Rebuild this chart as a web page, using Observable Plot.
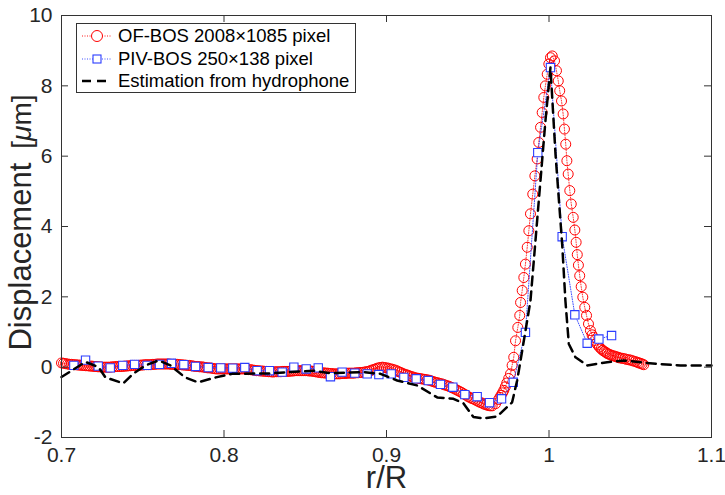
<!DOCTYPE html>
<html>
<head>
<meta charset="utf-8">
<script src="https://cdn.jsdelivr.net/npm/d3@7"></script>
<script src="https://cdn.jsdelivr.net/npm/@observablehq/plot@0.6"></script>
<style>
  html, body { margin: 0; padding: 0; background: #fff; }
  #wrap { position: relative; width: 725px; height: 495px; font-family: "Liberation Sans", Arial, sans-serif; }
  #legend { position: absolute; left: 76px; top: 23px; }
</style>
</head>
<body>
<div id="wrap"><div id="chart"></div><div id="legend"></div></div>
<script>
// ---- data ----
const seriesNames = ["OF-BOS 2008\u00d71085 pixel", "PIV-BOS 250\u00d7138 pixel", "Estimation from hydrophone"];
const xTicks = [0.7, 0.8, 0.9, 1, 1.1];
const xTickLabels = ["0.7", "0.8", "0.9", "1", "1.1"];
const yTicks = [-2, 0, 2, 4, 6, 8, 10];
const xLabel = "r/R";
const yLabel = "Displacement  [\u03bcm]";

// OF-BOS: [r/R, displacement]
const ofBos = [
[0.70000,0.12],[0.70125,0.11],[0.70250,0.10],[0.70375,0.09],[0.70500,0.08],[0.70625,0.08],[0.70750,0.07],[0.70875,0.07],[0.71000,0.06],[0.71125,0.06],
[0.71250,0.05],[0.71375,0.05],[0.71500,0.04],[0.71625,0.04],[0.71750,0.03],[0.71875,0.03],[0.72000,0.02],[0.72125,0.02],[0.72250,0.01],[0.72375,0.01],
[0.72500,0.00],[0.72625,0.00],[0.72750,0.00],[0.72875,0.00],[0.73000,0.00],[0.73125,0.01],[0.73250,0.01],[0.73375,0.02],[0.73500,0.02],[0.73625,0.02],
[0.73750,0.02],[0.73875,0.03],[0.74000,0.03],[0.74125,0.04],[0.74250,0.04],[0.74375,0.05],[0.74500,0.05],[0.74625,0.05],[0.74750,0.05],[0.74875,0.06],
[0.75000,0.06],[0.75125,0.07],[0.75250,0.07],[0.75375,0.07],[0.75500,0.07],[0.75625,0.08],[0.75750,0.08],[0.75875,0.09],[0.76000,0.09],[0.76125,0.09],
[0.76250,0.09],[0.76375,0.09],[0.76500,0.09],[0.76625,0.09],[0.76750,0.08],[0.76875,0.08],[0.77000,0.08],[0.77125,0.08],[0.77250,0.07],[0.77375,0.07],
[0.77500,0.06],[0.77625,0.06],[0.77750,0.05],[0.77875,0.05],[0.78000,0.04],[0.78125,0.03],[0.78250,0.02],[0.78375,0.02],[0.78500,0.01],[0.78625,0.01],
[0.78750,0.00],[0.78875,-0.01],[0.79000,-0.02],[0.79125,-0.02],[0.79250,-0.03],[0.79375,-0.04],[0.79500,-0.05],[0.79625,-0.05],[0.79750,-0.05],[0.79875,-0.05],
[0.80000,-0.05],[0.80125,-0.05],[0.80250,-0.05],[0.80375,-0.05],[0.80500,-0.05],[0.80625,-0.05],[0.80750,-0.05],[0.80875,-0.05],[0.81000,-0.05],[0.81125,-0.05],
[0.81250,-0.05],[0.81375,-0.06],[0.81500,-0.07],[0.81625,-0.07],[0.81750,-0.08],[0.81875,-0.09],[0.82000,-0.10],[0.82125,-0.10],[0.82250,-0.11],[0.82375,-0.11],
[0.82500,-0.12],[0.82625,-0.12],[0.82750,-0.13],[0.82875,-0.13],[0.83000,-0.14],[0.83125,-0.13],[0.83250,-0.13],[0.83375,-0.13],[0.83500,-0.13],[0.83625,-0.12],
[0.83750,-0.12],[0.83875,-0.12],[0.84000,-0.12],[0.84125,-0.11],[0.84250,-0.11],[0.84375,-0.10],[0.84500,-0.10],[0.84625,-0.10],[0.84750,-0.10],[0.84875,-0.10],
[0.85000,-0.10],[0.85125,-0.10],[0.85250,-0.11],[0.85375,-0.11],[0.85500,-0.12],[0.85625,-0.13],[0.85750,-0.14],[0.85875,-0.15],[0.86000,-0.16],[0.86125,-0.16],
[0.86250,-0.17],[0.86375,-0.17],[0.86500,-0.18],[0.86625,-0.18],[0.86750,-0.19],[0.86875,-0.19],[0.87000,-0.19],[0.87125,-0.19],[0.87250,-0.18],[0.87375,-0.18],
[0.87500,-0.18],[0.87625,-0.17],[0.87750,-0.17],[0.87875,-0.17],[0.88000,-0.17],[0.88125,-0.16],[0.88250,-0.16],[0.88375,-0.15],[0.88500,-0.15],[0.88625,-0.14],
[0.88750,-0.13],[0.88875,-0.12],[0.89000,-0.10],[0.89125,-0.08],[0.89250,-0.06],[0.89375,-0.04],[0.89500,-0.02],[0.89625,-0.01],[0.89750,0.00],[0.89875,-0.01],
[0.90000,-0.02],[0.90125,-0.03],[0.90250,-0.05],[0.90375,-0.06],[0.90500,-0.08],[0.90625,-0.10],[0.90750,-0.13],[0.90875,-0.15],[0.91000,-0.18],[0.91125,-0.20],
[0.91250,-0.22],[0.91375,-0.24],[0.91500,-0.26],[0.91625,-0.28],[0.91750,-0.30],[0.91875,-0.31],[0.92000,-0.32],[0.92125,-0.33],[0.92250,-0.34],[0.92375,-0.35],
[0.92500,-0.36],[0.92625,-0.37],[0.92750,-0.39],[0.92875,-0.41],[0.93000,-0.43],[0.93125,-0.44],[0.93250,-0.46],[0.93375,-0.47],[0.93500,-0.49],[0.93625,-0.51],
[0.93750,-0.53],[0.93875,-0.55],[0.94000,-0.58],[0.94125,-0.60],[0.94250,-0.63],[0.94375,-0.66],[0.94500,-0.69],[0.94625,-0.72],[0.94750,-0.76],[0.94875,-0.79],
[0.95000,-0.83],[0.95125,-0.86],[0.95250,-0.89],[0.95375,-0.91],[0.95500,-0.94],[0.95625,-0.97],[0.95750,-1.00],[0.95875,-1.02],[0.96000,-1.05],[0.96125,-1.07],
[0.96250,-1.09],[0.96375,-1.10],[0.96500,-1.10],[0.96710,-1.04],[0.96900,-0.92],[0.96980,-0.86],[0.97050,-0.80],[0.97140,-0.73],[0.97220,-0.66],[0.97310,-0.56],
[0.97400,-0.45],[0.97520,-0.32],[0.97630,-0.19],[0.97730,0.05],[0.97830,0.28],[0.97940,0.75],[0.98080,1.13],[0.98200,1.47],[0.98250,1.84],[0.98350,2.18],
[0.98450,2.55],[0.98550,2.93],[0.98660,3.41],[0.98760,3.88],[0.98860,4.36],[0.99000,4.92],[0.99130,5.44],[0.99270,5.92],[0.99370,6.39],[0.99480,6.82],
[0.99580,7.24],[0.99680,7.67],[0.99780,8.00],[0.99890,8.33],[0.99990,8.62],[1.00090,8.80],[1.00200,8.85],[1.00340,8.71],[1.00460,8.43],[1.00570,8.14],
[1.00660,7.86],[1.00770,7.57],[1.00870,7.20],[1.00950,6.77],[1.01030,6.34],[1.01100,5.87],[1.01180,5.49],[1.01280,5.02],[1.01370,4.64],[1.01490,4.26],
[1.01590,3.90],[1.01670,3.55],[1.01740,3.20],[1.01810,2.90],[1.01890,2.60],[1.01980,2.29],[1.02080,1.99],[1.02200,1.70],[1.02310,1.47],[1.02430,1.23],
[1.02550,1.04],[1.02650,0.92],[1.02720,0.85],[1.02820,0.76],[1.02920,0.68],[1.03000,0.63],[1.03100,0.57],[1.03210,0.52],[1.03300,0.48],[1.03400,0.45],
[1.03500,0.42],[1.03580,0.39],[1.03680,0.37],[1.03780,0.35],[1.03880,0.33],[1.03990,0.32],[1.04100,0.30],[1.04200,0.29],[1.04300,0.27],[1.04400,0.26],
[1.04520,0.25],[1.04650,0.24],[1.04780,0.22],[1.04910,0.21],[1.05030,0.20],[1.05150,0.18],[1.05300,0.16],[1.05430,0.14],[1.05530,0.12],[1.05630,0.11],
[1.05730,0.09],[1.05830,0.07]];

// PIV-BOS: [r/R, displacement]
const pivBos = [[0.7076,0.05],[0.7148,0.20],[0.7226,0.03],[0.7300,-0.02],[0.7377,0.05],[0.7450,0.08],[0.7527,0.05],[0.7603,0.08],[0.7677,0.11],[0.7753,0.07],[0.7825,0.02],[0.7903,-0.01],[0.7980,-0.02],[0.8054,-0.03],[0.8128,-0.01],[0.8204,-0.10],[0.8280,-0.10],[0.8358,-0.14],[0.8430,0.00],[0.8506,-0.05],[0.8580,-0.02],[0.8655,-0.27],[0.8727,-0.14],[0.8805,-0.17],[0.8881,-0.19],[0.8953,-0.21],[0.9029,-0.19],[0.9107,-0.29],[0.9183,-0.33],[0.9257,-0.38],[0.9332,-0.49],[0.9408,-0.57],[0.9482,-0.78],[0.9558,-0.84],[0.9634,-1.01],[0.9708,-0.90],[0.9780,-0.43],[0.9855,0.99],[0.9931,6.10],[1.0009,8.52],[1.0081,3.71],[1.0159,1.49],[1.0235,0.68],[1.0307,0.80],[1.0385,0.90]];

// Hydrophone estimation: [r/R, displacement]
const hydrophone = [[0.7000,-0.28],[0.7148,0.15],[0.7228,0.00],[0.7270,-0.29],[0.7380,-0.46],[0.7440,-0.19],[0.7517,0.05],[0.7597,0.19],[0.7670,0.05],[0.7760,-0.29],[0.7840,-0.43],[0.7950,-0.29],[0.8050,-0.19],[0.8190,-0.18],[0.8270,-0.18],[0.8409,-0.14],[0.8550,-0.10],[0.8655,-0.17],[0.8858,-0.14],[0.8963,-0.19],[0.9066,-0.38],[0.9189,-0.52],[0.9312,-0.86],[0.9412,-0.90],[0.9474,-1.03],[0.9535,-1.42],[0.9597,-1.46],[0.9681,-1.40],[0.9773,-1.00],[0.9804,-0.38],[0.9825,0.19],[0.9886,1.89],[0.9927,4.17],[0.9978,7.00],[1.0009,8.52],[1.0040,6.06],[1.0081,3.50],[1.0101,1.89],[1.0122,0.66],[1.0163,0.28],[1.0235,0.05],[1.0358,0.14],[1.0460,0.19],[1.0563,0.14],[1.0666,0.09],[1.0809,0.05],[1.1000,0.05]];

// ---- styles ----
const RED = "#ff0000", BLUE = "#2b3dff", AXIS = "#333333";
const FONT = "'Liberation Sans', Arial, sans-serif";
const px = d => d[0], py = d => d[1];
const W = 725, H = 495, ML = 61, MR = 14, MT = 15, MB = 58, TICK = 7;
const frameW = W - ML - MR, frameH = H - MT - MB;

const chart = Plot.plot({
  width: W, height: H,
  marginLeft: ML, marginRight: MR, marginTop: MT, marginBottom: MB,
  style: { fontFamily: FONT, background: "#fff", color: "#262626", overflow: "visible" },
  x: { type: "linear", domain: [0.7, 1.1] },
  y: { type: "linear", domain: [-2, 10] },
  marks: [
    // OF-BOS
    Plot.line(ofBos, { x: px, y: py, stroke: RED, strokeWidth: 0.8, strokeDasharray: "1,1.5" }),
    Plot.dot(ofBos, { x: px, y: py, r: 5, stroke: RED, strokeWidth: 1, fill: "none" }),
    // PIV-BOS
    Plot.line(pivBos, { x: px, y: py, stroke: BLUE, strokeWidth: 0.9, strokeDasharray: "1,1.5" }),
    Plot.dot(pivBos, { x: px, y: py, symbol: "square", r: 4.7, stroke: BLUE, strokeWidth: 1.1, fill: "#fff" }),
    // Hydrophone
    Plot.line(hydrophone, { x: px, y: py, stroke: "#000", strokeWidth: 2.5, strokeDasharray: "9,6" }),
    // frame and inward ticks
    Plot.frame({ stroke: AXIS, strokeWidth: 1 }),
    Plot.tickX(xTicks, { x: d => d, insetTop: frameH - TICK, stroke: AXIS }),
    Plot.tickX(xTicks, { x: d => d, insetBottom: frameH - TICK, stroke: AXIS }),
    Plot.tickY(yTicks, { y: d => d, insetRight: frameW - TICK, stroke: AXIS }),
    Plot.tickY(yTicks, { y: d => d, insetLeft: frameW - TICK, stroke: AXIS }),
    // tick labels
    Plot.axisX({ anchor: "bottom", ticks: xTicks, tickSize: 0, tickPadding: 10, fontSize: 21,
      tickFormat: d => xTickLabels[xTicks.indexOf(d)], label: null }),
    Plot.axisY({ anchor: "left", ticks: yTicks, tickSize: 0, tickPadding: 9, fontSize: 21,
      tickFormat: d => String(d), label: null }),
    // axis titles
    Plot.text([xLabel], { text: d => d, frameAnchor: "bottom", lineAnchor: "middle", textAnchor: "middle", dy: 41, fontSize: 31, fill: "#262626" }),
    Plot.text([yLabel], { text: d => d, frameAnchor: "left", lineAnchor: "middle", textAnchor: "middle", dx: -40, dy: -4, rotate: -90, fontSize: 31, fill: "#262626" })
  ]
});
document.getElementById("chart").appendChild(chart);

// TeX-style unit in y label: italic mu, slightly smaller bracket part
d3.select(chart).selectAll("text").each(function() {
  if (this.textContent === yLabel) {
    const sel = d3.select(this);
    sel.text(null);
    sel.append("tspan").text("Displacement");
    sel.append("tspan").attr("dx", 14).attr("font-size", 28).text("[");
    sel.append("tspan").attr("font-size", 28).attr("font-style", "italic").text("\u03bc");
    sel.append("tspan").attr("font-size", 28).text("m]");
  }
});

// ---- legend ----
const lw = 280, lh = 70;
const leg = d3.select("#legend").append("svg").attr("width", lw).attr("height", lh)
  .style("font-family", FONT).style("overflow", "visible");
leg.append("rect").attr("x", 0.5).attr("y", 0.5).attr("width", lw - 1).attr("height", lh - 1)
  .attr("fill", "#fff").attr("stroke", AXIS).attr("stroke-width", 1);
const rowY = [13, 36, 58];
seriesNames.forEach((name, i) => {
  const g = leg.append("g").attr("transform", `translate(0,${rowY[i]})`);
  if (i === 0) {
    g.append("line").attr("x1", 6).attr("x2", 36).attr("stroke", RED).attr("stroke-width", 0.9).attr("stroke-dasharray", "1,1.5");
    g.append("circle").attr("cx", 21).attr("r", 5.5).attr("fill", "#fff").attr("stroke", RED).attr("stroke-width", 1);
  } else if (i === 1) {
    g.append("line").attr("x1", 6).attr("x2", 36).attr("stroke", BLUE).attr("stroke-width", 0.9).attr("stroke-dasharray", "1,1.5");
    g.append("rect").attr("x", 17).attr("y", -4).attr("width", 8).attr("height", 8).attr("fill", "#fff").attr("stroke", BLUE).attr("stroke-width", 1.1);
  } else {
    g.append("line").attr("x1", 6).attr("x2", 36).attr("stroke", "#000").attr("stroke-width", 2.5).attr("stroke-dasharray", "9,6");
  }
  g.append("text").attr("x", 42).attr("dy", "0.35em").attr("font-size", 18.5).attr("fill", "#000").text(name);
});
</script>
</body>
</html>
